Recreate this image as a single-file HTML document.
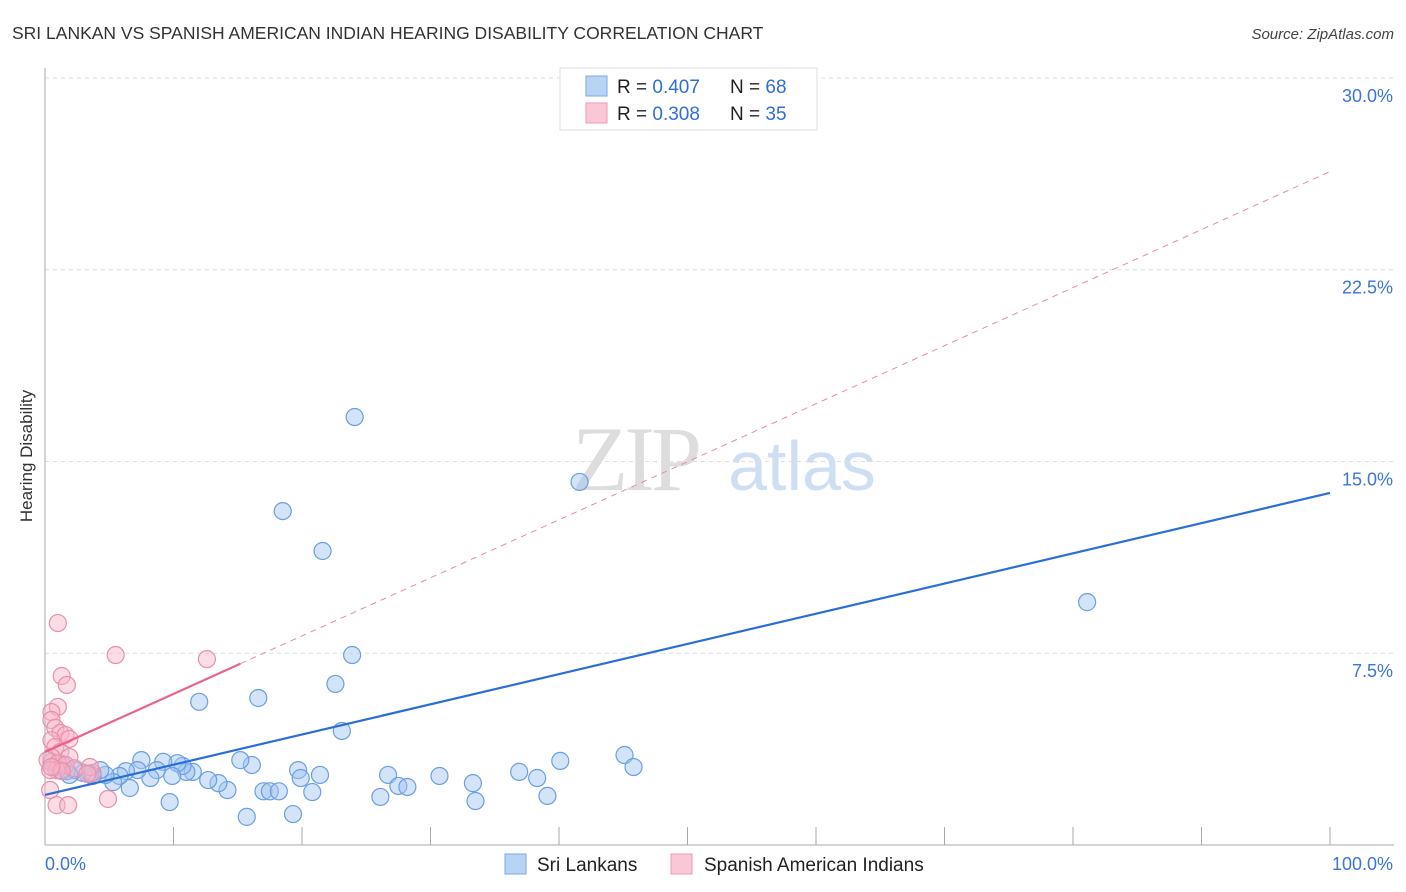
<!DOCTYPE html>
<html><head><meta charset="utf-8"><style>
body{margin:0;background:#fff;font-family:"Liberation Sans",sans-serif}
svg{display:block}
</style></head><body>
<svg id="c" width="1406" height="892" xmlns="http://www.w3.org/2000/svg">
<text x="12" y="39" font-size="17.5" fill="#333">SRI LANKAN VS SPANISH AMERICAN INDIAN HEARING DISABILITY CORRELATION CHART</text>
<text x="1394" y="39" font-size="15" fill="#444" font-style="italic" text-anchor="end">Source: ZipAtlas.com</text>
<text x="32" y="456" font-size="17" fill="#333" text-anchor="middle" transform="rotate(-90 32 456)">Hearing Disability</text>
<g><text x="635" y="490" font-size="92" font-family="Liberation Serif,serif" fill="#ddd" text-anchor="middle" letter-spacing="-4">ZIP</text><text x="802" y="490" font-size="70" fill="#cfdff3" text-anchor="middle">atlas</text></g>
<g id="grid"></g><g id="marks"></g><g id="lines"></g>
<g>
<rect x="560" y="68" width="257" height="62" fill="#fff" stroke="#ddd"/>
<rect x="586" y="76" width="21" height="20" fill="#b9d3f5" stroke="#7aa8e6"/>
<rect x="586" y="103" width="21" height="20" fill="#fbc6d5" stroke="#ee99b2"/>
<text x="617" y="93" font-size="19" fill="#222">R = <tspan fill="#2f6fd6">0.407</tspan><tspan x="730">N = </tspan><tspan fill="#2f6fd6">68</tspan></text>
<text x="617" y="120" font-size="19" fill="#222">R = <tspan fill="#2f6fd6">0.308</tspan><tspan x="730">N = </tspan><tspan fill="#2f6fd6">35</tspan></text>
</g>
<g>
<rect x="505" y="854" width="21" height="20" fill="#b9d3f5" stroke="#7aa8e6"/>
<text x="537" y="871" font-size="19" fill="#222">Sri Lankans</text>
<rect x="671" y="854" width="21" height="20" fill="#fbc6d5" stroke="#ee99b2"/>
<text x="704" y="871" font-size="19" fill="#222">Spanish American Indians</text>
</g>
</svg>
<script>
const yTicks=[7.5,15,22.5,30];
const yTickLabels=["7.5%","15.0%","22.5%","30.0%"];
const blueX=[24.1,18.5,21.6,41.6,54.4,81.1,23.9,22.6,12.0,16.6,23.1,45.1,45.8,40.1,36.9,38.3,39.1,33.3,33.5,30.7,26.7,27.5,28.2,26.1,21.4,19.7,19.9,20.8,19.3,15.7,17.0,17.5,18.2,16.1,15.2,14.2,13.5,12.7,11.5,11.0,10.7,10.3,9.9,9.7,9.2,8.7,8.2,7.5,7.2,6.6,6.3,5.8,5.3,4.7,4.3,3.5,2.96,2.3,1.7,1.2,0.8,0.5,1.3,1.9,3.7];
const blueY=[16.74,13.06,11.5,14.2,29.7,9.5,7.43,6.3,5.6,5.75,4.46,3.52,3.05,3.29,2.86,2.62,1.92,2.42,1.72,2.7,2.74,2.31,2.27,1.88,2.74,2.93,2.62,2.07,1.21,1.1,2.1,2.1,2.1,3.13,3.32,2.15,2.42,2.54,2.86,2.86,3.09,3.2,2.7,1.68,3.25,2.93,2.62,3.32,2.93,2.23,2.89,2.7,2.46,2.74,2.93,2.78,2.82,2.93,2.89,2.93,3.05,3.25,3.17,2.74,2.7];
const pinkX=[1.0,5.5,12.6,1.3,1.7,1.0,0.5,0.5,0.8,1.2,1.6,1.9,0.5,0.8,1.2,1.9,0.5,0.2,1.0,1.6,2.3,0.9,0.4,1.3,3.7,3.5,0.4,0.9,1.8,4.9,3.3,0.5];
const pinkY=[8.68,7.43,7.27,6.61,6.26,5.4,5.2,4.89,4.58,4.38,4.3,4.15,4.1,3.83,3.64,3.44,3.44,3.32,3.2,3.13,3.0,2.93,2.93,2.89,2.82,3.05,2.15,1.56,1.56,1.8,2.78,3.05];
const blueFit=[1.96,0.1181];
const pinkFit=[3.64,0.227];
const NS="http://www.w3.org/2000/svg";
const X=v=>45+v*12.85, Y=v=>845-v*25.567;
function mk(t,a,p){const e=document.createElementNS(NS,t);for(const k in a)e.setAttribute(k,a[k]);p.appendChild(e);return e;}
const g=document.getElementById('grid'),m=document.getElementById('marks'),l=document.getElementById('lines');
yTicks.forEach((t,i)=>{
 const ln=mk('line',{x1:45,x2:1394,y1:Y(t),y2:Y(t),stroke:'#ddd','stroke-dasharray':'4 4'},g);
 
 
 const tx=mk('text',{x:1393,y:Y(t)+24,'font-size':18,fill:'#3a75d8','text-anchor':'end'},g);tx.textContent=yTickLabels[i];
 
 
});
mk('line',{x1:45,x2:45,y1:68,y2:845,stroke:'#aaa'},g);
mk('line',{x1:45,x2:1394,y1:845,y2:845,stroke:'#aaa'},g);
for(let i=0;i<=10;i++){const t=mk('line',{x1:X(i*10),x2:X(i*10),y1:827,y2:845,stroke:'#aaa'},g);
 
 }
const x0=mk('text',{x:45,y:870,'font-size':18,fill:'#3a75d8'},g);x0.textContent='0.0%';


const x1=mk('text',{x:1393,y:870,'font-size':18,fill:'#3a75d8','text-anchor':'end'},g);x1.textContent='100.0%';


blueX.forEach((v,i)=>{const c=mk('circle',{cx:X(v),cy:Y(blueY[i]),r:8.5,fill:'rgba(160,196,240,0.45)',stroke:'#6a9fe0','stroke-width':1.2},m);
 
 });
pinkX.forEach((v,i)=>{const c=mk('circle',{cx:X(v),cy:Y(pinkY[i]),r:8.5,fill:'rgba(248,180,200,0.45)',stroke:'#e890aa','stroke-width':1.2},m);
 
 });
const bl=mk('line',{x1:X(0),y1:Y(blueFit[0]),x2:X(100),y2:Y(blueFit[0]+100*blueFit[1]),stroke:'#2a6fd8','stroke-width':2.2},l);


const pd=mk('line',{x1:X(15.2),y1:Y(pinkFit[0]+15.2*pinkFit[1]),x2:X(100),y2:Y(pinkFit[0]+100*pinkFit[1]),stroke:'#e88aa6','stroke-width':1,'stroke-dasharray':'6 5'},l);


const pl=mk('line',{x1:X(0),y1:Y(pinkFit[0]),x2:X(15.2),y2:Y(pinkFit[0]+15.2*pinkFit[1]),stroke:'#e8638d','stroke-width':2.2},l);


</script>
</body></html>
